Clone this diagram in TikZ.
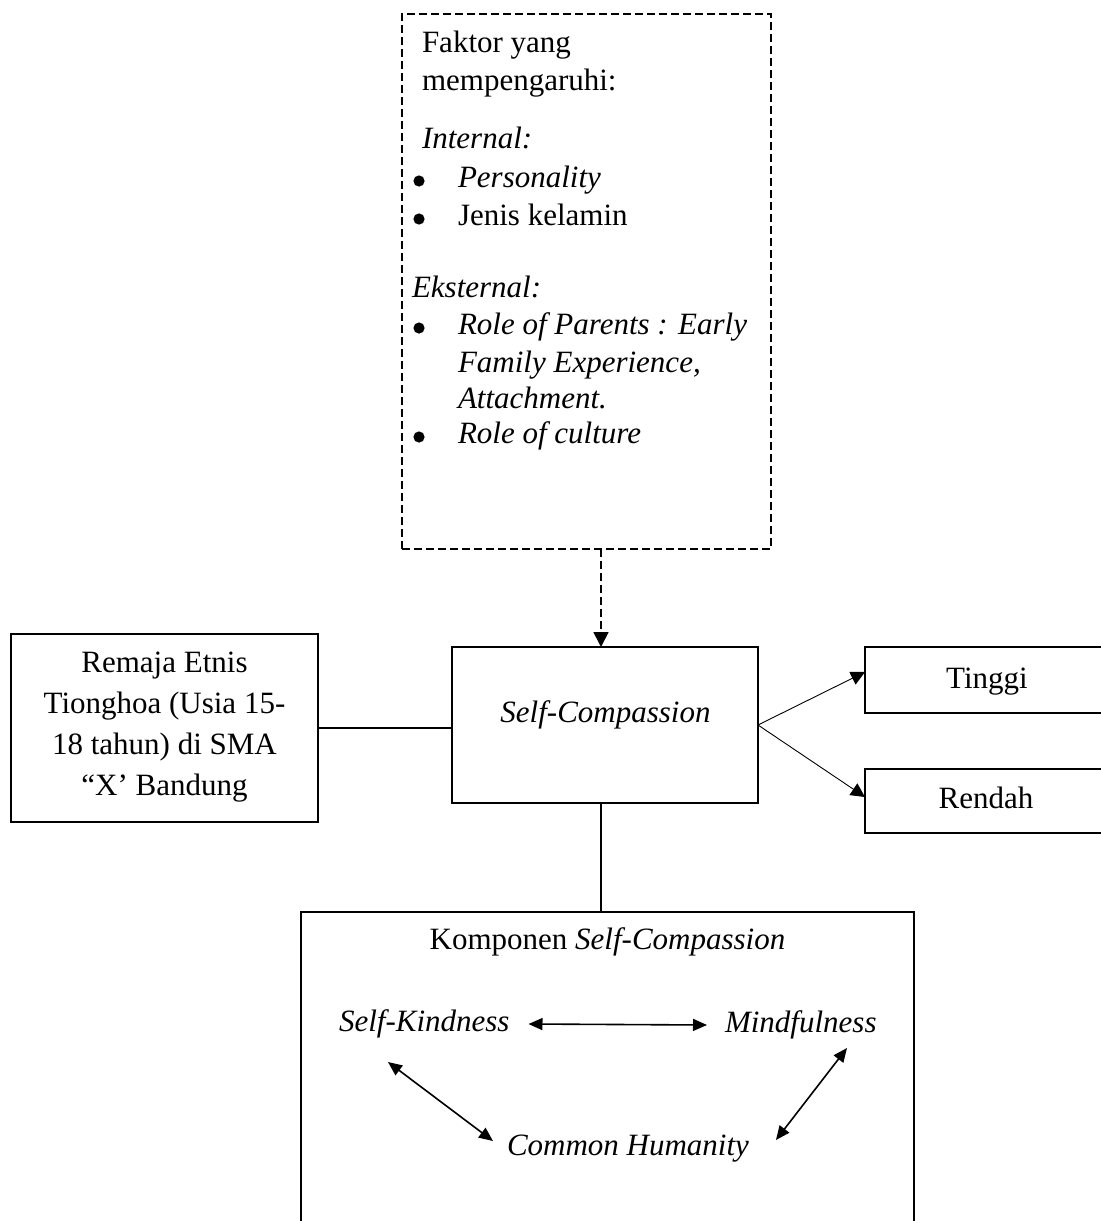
\documentclass[tikz,border=0pt]{standalone}
\usepackage{fontspec}
\setmainfont{Liberation Serif}
\usetikzlibrary{arrows.meta}
\begin{document}
\begin{tikzpicture}[x=0.5pt,y=-0.5pt,
  every node/.style={font=\fontsize{15.5}{20.5}\selectfont},
  box/.style={draw, line width=1pt, rectangle, inner sep=0pt, outer sep=0pt},
  dbox/.style={draw, line width=0.85pt, dash pattern=on 4pt off 2pt, rectangle, inner sep=0pt, outer sep=0pt},
  txt/.style={inner sep=0pt, outer sep=0pt},
  bul/.style={circle, fill=black, inner sep=0pt, outer sep=0pt, minimum size=5.6pt},
  link/.style={line width=1pt},
  thinarrow/.style={line width=0.45pt, -{Triangle[length=7pt,width=7pt]}},
  dblarrow/.style={line width=0.8pt, {Triangle[length=7pt,width=6pt]}-{Triangle[length=7pt,width=6pt]}},
  dasharrow/.style={line width=0.85pt, dash pattern=on 4pt off 2pt, -{Triangle[length=7.5pt,width=7.5pt]}}
]
\useasboundingbox (0,0) rectangle (1100,1221);

% boxes
\node[dbox, minimum width=184.5pt, minimum height=267.5pt] (factor) at (586.5,281.5) {};
\node[box, minimum width=153pt, minimum height=78pt] (sc) at (605,725) {};
\node[box, minimum width=153.5pt, minimum height=94pt] (remaja) at (164.5,728) {};
\node[box, minimum width=125pt, minimum height=33pt] (tinggi) at (990,680) {};
\node[box, minimum width=125pt, minimum height=32pt] (rendah) at (990,801) {};
\node[box, minimum width=306.5pt, minimum height=170pt] (komp) at (607.5,1082) {};

% factor box text
\node[txt, anchor=base west] (f1) at (422,52) {Faktor yang};
\node[txt, anchor=base west] (f2) at (422,90) {mempengaruhi:};
\node[txt, anchor=base west] (f3) at (422,148) {\itshape Internal:};
\node[bul] (b1) at (419,181) {};
\node[txt, anchor=base west] (f4) at (458,187) {\itshape Personality};
\node[bul] (b2) at (419,219) {};
\node[txt, anchor=base west] (f5) at (458,225) {Jenis kelamin};
\node[txt, anchor=base west] (f6) at (412,297) {\itshape Eksternal:};
\node[bul] (b3) at (419,328) {};
\node[txt, anchor=base west] (f7) at (458,334) {\itshape Role of Parents : Early};
\node[txt, anchor=base west] (f8) at (458,372) {\itshape Family Experience,};
\node[txt, anchor=base west] (f9) at (458,408) {\itshape Attachment.};
\node[bul] (b4) at (419,437) {};
\node[txt, anchor=base west] (f10) at (458,443) {\itshape Role of culture};

% other texts
\node[txt, anchor=base] (sctext) at (605.5,722) {\itshape Self-Compassion};
\node[txt, align=center] (remajatext) at (164.5,727) {Remaja Etnis\\Tionghoa (Usia 15-\\18 tahun) di SMA\\“X’ Bandung};
\node[txt, anchor=base] (ttext) at (987,688) {Tinggi};
\node[txt, anchor=base] (rtext) at (986,808) {Rendah};
\node[txt, anchor=base] (ktext) at (607.5,949) {Komponen \textit{Self-Compassion}};
\node[txt, anchor=base west] (sk) at (339,1031) {\itshape Self-Kindness};
\node[txt, anchor=base west] (mf) at (725,1032) {\itshape Mindfulness};
\node[txt, anchor=base west] (ch) at (507,1155) {\itshape Common Humanity};

% connectors
\draw[dasharrow] ([xshift=-2pt]sc.north |- factor.south) -- ([xshift=-2pt]sc.north);
\draw[link] (remaja.east) -- (remaja.east -| sc.west);
\draw[link] ([xshift=-2pt]sc.south) -- ([xshift=-2pt]sc.south |- komp.north);
\draw[thinarrow] (sc.east) -- ([yshift=4pt]tinggi.west);
\draw[thinarrow] (sc.east) -- ([yshift=2pt]rendah.west);

\draw[dblarrow] ([xshift=9.5pt,yshift=3.5pt]sk.base east) -- ([xshift=-9pt,yshift=3.5pt]mf.base west);
\draw[dblarrow] ([xshift=24.5pt,yshift=-15.5pt]sk.base west) -- ([xshift=-7pt,yshift=7pt]ch.base west);
\draw[dblarrow] ([xshift=61pt,yshift=-8pt]mf.base west) -- ([xshift=13.5pt,yshift=7.5pt]ch.base east);
\end{tikzpicture}
\end{document}
